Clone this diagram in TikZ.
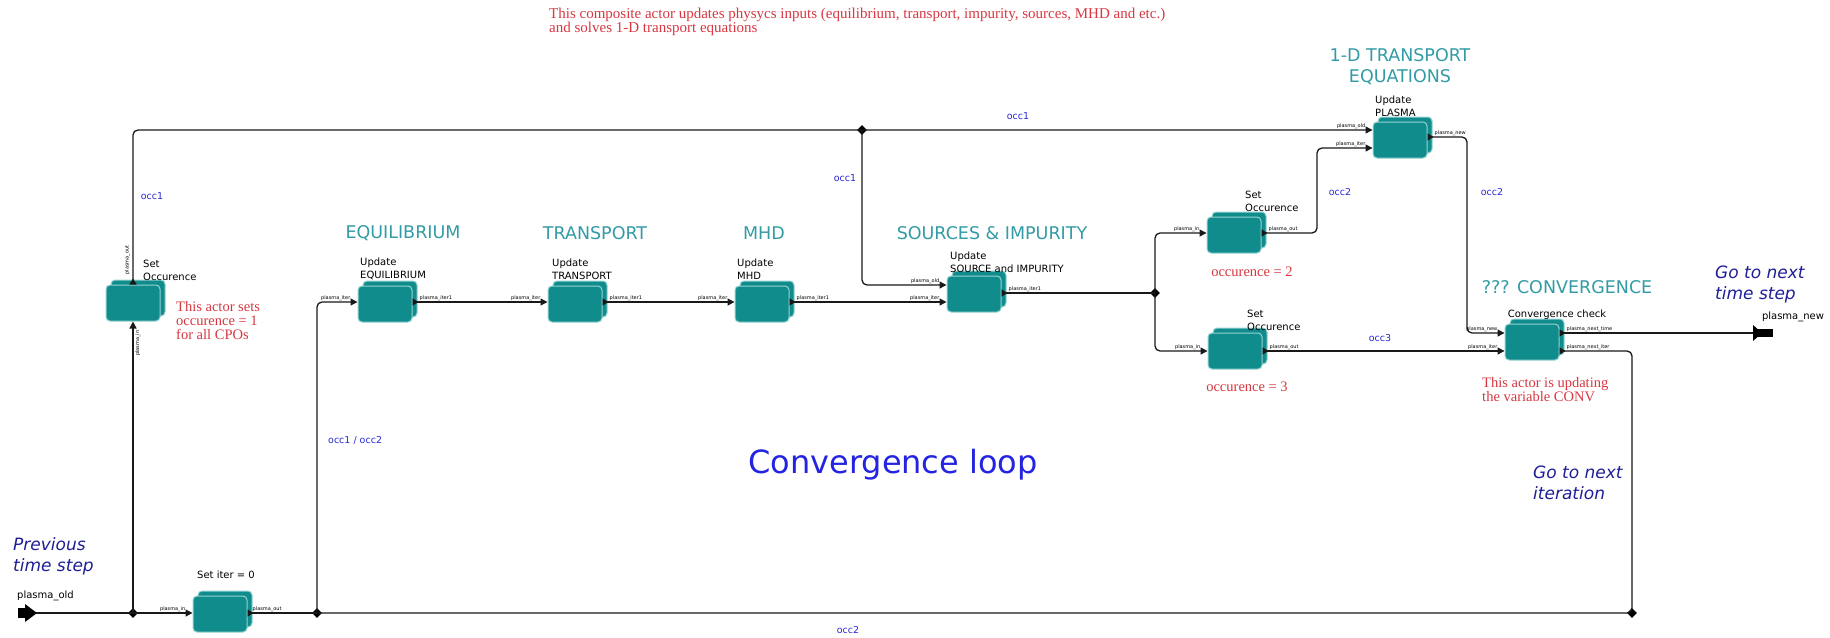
\documentclass[tikz,border=0pt]{standalone}
\usepackage{fontspec}
\setmainfont{Liberation Serif}
\setsansfont{DejaVu Sans}
\usetikzlibrary{arrows.meta,shadows,shapes.arrows,shapes.geometric,calc}
\definecolor{boxfill}{RGB}{17,140,140}
\definecolor{boxline}{RGB}{150,210,210}
\definecolor{titlecol}{RGB}{50,155,165}
\definecolor{redtxt}{RGB}{215,55,65}
\definecolor{bluelbl}{RGB}{40,40,210}
\definecolor{navy}{RGB}{30,30,150}
\definecolor{loopblue}{RGB}{35,35,225}
\tikzset{
 actor/.style={draw=boxline, line width=1pt, fill=boxfill, rounded corners=4pt,
   minimum width=54pt, minimum height=36pt, inner sep=0pt,
   copy shadow={shadow xshift=5pt, shadow yshift=5pt, fill=boxfill, draw=boxline}},
 jn/.style={diamond, fill=black, inner sep=0pt, minimum size=10pt},
 wire/.style={draw=black!90, line width=1.3pt, rounded corners=5pt},
 inp/.style={-{Triangle[length=7pt,width=7pt]}},
 outp/.style={{Triangle[reversed,length=6pt,width=7pt]}-},
 oi/.style={{Triangle[reversed,length=6pt,width=7pt]}-{Triangle[length=7pt,width=7pt]}},
 port/.style={font=\sffamily\fontsize{5}{6}\selectfont, inner sep=1pt},
 lbl/.style={font=\sffamily\fontsize{10}{13}\selectfont, align=left, inner sep=0pt, anchor=west},
 title/.style={font=\sffamily\fontsize{17.5}{21}\selectfont, text=titlecol, align=center, inner sep=0pt},
 note/.style={font=\rmfamily\fontsize{14.5}{14}\selectfont, text=redtxt, align=left, inner sep=0pt},
 occ/.style={font=\sffamily\fontsize{9.5}{12}\selectfont, text=bluelbl, inner sep=0pt},
 nav/.style={font=\sffamily\itshape\fontsize{17}{21}\selectfont, text=navy, align=left, inner sep=0pt, anchor=west},
}
\begin{document}
\begin{tikzpicture}[x=1pt,y=-1pt]
\useasboundingbox (0,0) rectangle (1830,637);

% actors
\node[actor] (so1) at (133,303) {};
\node[actor] (it0) at (220,614) {};
\node[actor] (eq) at (385,304) {};
\node[actor] (tr) at (575,304) {};
\node[actor] (mhd) at (762,304) {};
\node[actor] (src) at (974,294) {};
\node[actor] (pl) at (1400,140) {};
\node[actor] (so2) at (1234,235) {};
\node[actor] (so3) at (1235,351) {};
\node[actor] (cv) at (1532,342) {};

% junctions
\node[jn] (j1) at (133,613) {};
\node[jn] (j2) at (317,613) {};
\node[jn] (j3) at (862,130) {};
\node[jn] (j4) at (1155,293) {};
\node[jn] (j5) at (1632,613) {};

% external ports
\coordinate (pin) at (36,613);
\fill (18,608) rectangle (27,618);
\fill (25,604) -- (37,613) -- (25,622) -- cycle;
\coordinate (pout) at (1753,333);
\fill (1753,325) -- (1762,333) -- (1753,341) -- cycle;
\fill (1757,329) rectangle (1773,337);

% port coordinates
\coordinate (so1-i) at (so1.south);
\coordinate (so1-o) at (so1.north);
\coordinate (it0-i) at (it0.west |- 0,613);
\coordinate (it0-o) at (it0.east |- 0,613);
\coordinate (eq-i) at (eq.west |- 0,302);
\coordinate (eq-o) at (eq.east |- 0,302);
\coordinate (tr-i) at (tr.west |- 0,302);
\coordinate (tr-o) at (tr.east |- 0,302);
\coordinate (mhd-i) at (mhd.west |- 0,302);
\coordinate (mhd-o) at (mhd.east |- 0,302);
\coordinate (src-i1) at (src.west |- 0,285);
\coordinate (src-i2) at (src.west |- 0,302);
\coordinate (src-o) at (src.east |- 0,293);
\coordinate (pl-i1) at (pl.west |- 0,130);
\coordinate (pl-i2) at (pl.west |- 0,148);
\coordinate (pl-o) at (pl.east |- 0,137);
\coordinate (so2-i) at (so2.west |- 0,233);
\coordinate (so2-o) at (so2.east |- 0,233);
\coordinate (so3-i) at (so3.west |- 0,351);
\coordinate (so3-o) at (so3.east |- 0,351);
\coordinate (cv-i1) at (cv.west |- 0,333);
\coordinate (cv-i2) at (cv.west |- 0,351);
\coordinate (cv-o1) at (cv.east |- 0,333);
\coordinate (cv-o2) at (cv.east |- 0,351);
\coordinate (k1) at (1317,190);
\coordinate (k2) at (1467,240);

% wires
\draw[wire,inp] (pin) -- (j1.center) -- (it0-i);
\draw[wire,inp] (j1.center) -- (so1-i);
\draw[wire,oi] (so1-o) |- (j3.center) -- (pl-i1);
\draw[wire,inp] (j3.center) |- (src-i1);
\draw[wire,outp] (it0-o) -- (j2.center);
\draw[wire,inp] (j2.center) |- (eq-i);
\draw[wire,outp] (cv-o2) -| (j5.center) -- (j2.center);
\draw[wire,oi] (eq-o) -- (tr-i);
\draw[wire,oi] (tr-o) -- (mhd-i);
\draw[wire,oi] (mhd-o) -- (src-i2);
\draw[wire,outp] (src-o) -- (j4.center);
\draw[wire,inp] (j4.center) |- (so2-i);
\draw[wire,inp] (j4.center) |- (so3-i);
\draw[wire,oi] (so2-o) -| (k1) |- (pl-i2);
\draw[wire,oi] (pl-o) -| (k2) |- (cv-i1);
\draw[wire,oi] (so3-o) -- (cv-i2);
\draw[wire,outp] (cv-o1) -- (pout);

% port labels
\node[port, rotate=90, anchor=south west] (p1) at ([xshift=-2pt,yshift=9pt]so1-o) {plasma\_out};
\node[port, rotate=90, anchor=north east] (p2) at ([xshift=1pt,yshift=-8pt]so1-i) {plasma\_in};
\node[port, anchor=south east] (p3) at ([xshift=-6pt]it0-i) {plasma\_in};
\node[port, anchor=south west] (p4) at ([xshift=4pt]it0-o) {plasma\_out};
\node[port, anchor=south east] (p5) at ([xshift=-6pt]eq-i) {plasma\_iter};
\node[port, anchor=south west] (p6) at ([xshift=6pt]eq-o) {plasma\_iter1};
\node[port, anchor=south east] (p7) at ([xshift=-6pt]tr-i) {plasma\_iter};
\node[port, anchor=south west] (p8) at ([xshift=6pt]tr-o) {plasma\_iter1};
\node[port, anchor=south east] (p9) at ([xshift=-6pt]mhd-i) {plasma\_iter};
\node[port, anchor=south west] (p10) at ([xshift=6pt]mhd-o) {plasma\_iter1};
\node[port, anchor=south east] (p11) at ([xshift=-6pt]src-i1) {plasma\_old};
\node[port, anchor=south east] (p12) at ([xshift=-6pt]src-i2) {plasma\_iter};
\node[port, anchor=south west] (p13) at ([xshift=6pt]src-o) {plasma\_iter1};
\node[port, anchor=south east] (p14) at ([xshift=-6pt]pl-i1) {plasma\_old};
\node[port, anchor=south east] (p15) at ([xshift=-6pt]pl-i2) {plasma\_iter};
\node[port, anchor=south west] (p16) at ([xshift=6pt]pl-o) {plasma\_new};
\node[port, anchor=south east] (p17) at ([xshift=-6pt]so2-i) {plasma\_in};
\node[port, anchor=south west] (p18) at ([xshift=6pt]so2-o) {plasma\_out};
\node[port, anchor=south east] (p19) at ([xshift=-6pt]so3-i) {plasma\_in};
\node[port, anchor=south west] (p20) at ([xshift=6pt]so3-o) {plasma\_out};
\node[port, anchor=south east] (p21) at ([xshift=-6pt]cv-i1) {plasma\_new};
\node[port, anchor=south east] (p22) at ([xshift=-6pt]cv-i2) {plasma\_iter};
\node[port, anchor=south west] (p23) at ([xshift=6pt]cv-o1) {plasma\_next\_time};
\node[port, anchor=south west] (p24) at ([xshift=6pt]cv-o2) {plasma\_next\_iter};

% actor labels
\node[lbl] (t1) at (143,270) {Set\\Occurence};
\node[lbl] (t2) at (197,575) {Set iter = 0};
\node[lbl] (t3) at (360,269) {Update\\EQUILIBRIUM};
\node[lbl] (t4) at (552,269) {Update\\TRANSPORT};
\node[lbl] (t5) at (737,269) {Update\\MHD};
\node[lbl] (t6) at (950,262) {Update\\SOURCE and IMPURITY};
\node[lbl] (t7) at (1375,106) {Update\\PLASMA};
\node[lbl] (t8) at (1245,201) {Set\\Occurence};
\node[lbl] (t9) at (1247,320) {Set\\Occurence};
\node[lbl, anchor=center] (t10) at (1557,315) {Convergence check};
\node[lbl] (t11) at (17,596) {plasma\_old};
\node[lbl, anchor=center] (t12) at (1793,317) {plasma\_new};

% titles
\node[title] (h1) at (403,233) {EQUILIBRIUM};
\node[title] (h2) at (595,233) {TRANSPORT};
\node[title] (h3) at (764,233) {MHD};
\node[title] (h4) at (992,233) {SOURCES \& IMPURITY};
\node[title] (h5) at (1400,67) {1-D TRANSPORT\\EQUATIONS};
\node[title] (h6) at (1567,287) {??? CONVERGENCE};

% red notes
\node[note, anchor=west, font=\rmfamily\fontsize{15}{14}\selectfont] (n1) at (549,22) {This composite actor updates physycs inputs (equilibrium, transport, impurity, sources, MHD and etc.)\\and solves 1-D transport equations};
\node[note, anchor=west] (n2) at (176,321) {This actor sets\\occurence = 1\\for all CPOs};
\node[note] (n3) at (1252,272) {occurence = 2};
\node[note] (n4) at (1247,387) {occurence = 3};
\node[note, anchor=west] (n5) at (1482,390) {This actor is updating\\the variable CONV};

% blue labels
\node[occ] (o1) at (152,196) {occ1};
\node[occ] (o2) at (1018,116) {occ1};
\node[occ] (o3) at (845,178) {occ1};
\node[occ, anchor=west] (o4) at (328,440) {occ1 / occ2};
\node[occ] (o5) at (1340,192) {occ2};
\node[occ] (o6) at (1492,192) {occ2};
\node[occ] (o7) at (1380,338) {occ3};
\node[occ] (o8) at (848,630) {occ2};

% navy italic
\node[nav] (g1) at (13,556) {Previous\\time step};
\node[nav] (g2) at (1715,284) {Go to next\\time step};
\node[nav] (g3) at (1533,483) {Go to next\\iteration};

\node[font=\sffamily\fontsize{32}{38}\selectfont, text=loopblue, inner sep=0pt] (loop) at (893,465) {Convergence loop};
\end{tikzpicture}
\end{document}
